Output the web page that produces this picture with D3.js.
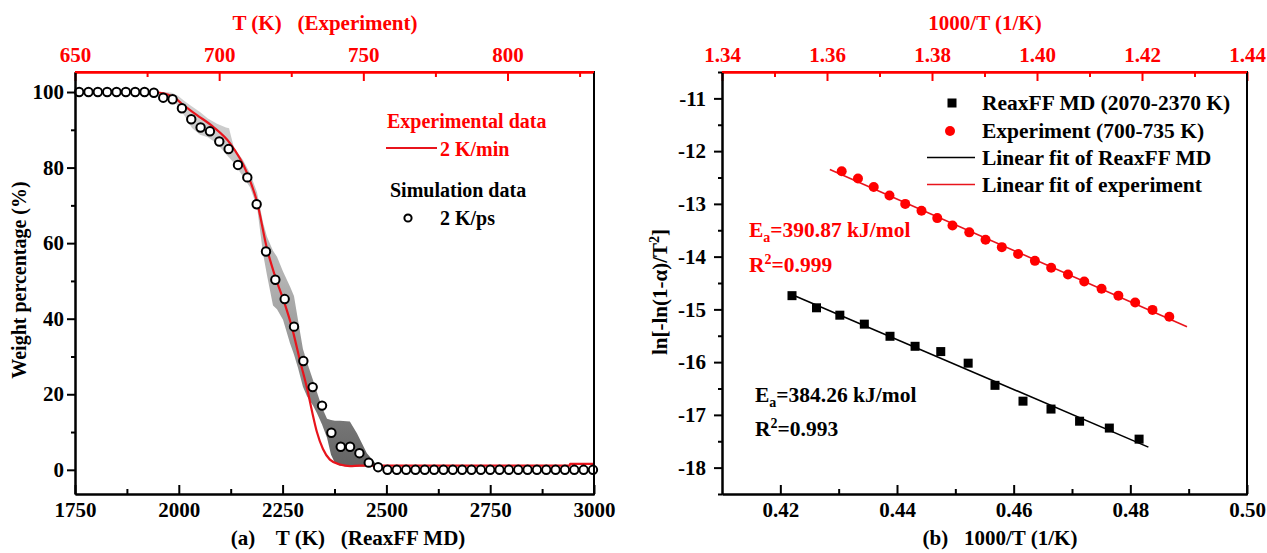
<!DOCTYPE html>
<html><head><meta charset="utf-8">
<script src="https://cdn.jsdelivr.net/npm/d3@7"></script>
<style>
html,body{margin:0;padding:0;background:#fff;}
svg text{font-family:"Liberation Serif","Times New Roman",serif;font-weight:bold;}
</style></head>
<body>
<svg id="chart" width="1267" height="553"></svg>
<script>
// ---------- DATA ----------
// Panel (a): simulation (ReaxFF MD, 2 K/ps), bottom axis T (K)
const simT = [1760,1782.5,1805,1827.5,1850,1872.5,1895,1917.5,1940,1962.5,1985,2007.5,2030,2052.5,2075,2097.5,2120,2142.5,2165,2187.5,2210,2232.5,2255,2277.5,2300,2322.5,2345,2367.5,2390,2412.5,2435,2457.5,2480,2502.5,2525,2547.5,2570,2592.5,2615,2637.5,2660,2682.5,2705,2727.5,2750,2772.5,2795,2817.5,2840,2862.5,2885,2907.5,2930,2952.5,2975,2997.5];
const simW = [100,100,100,100,100,100,100,100,99.8,98.5,98.1,95.7,92.8,90.6,89.6,86.9,84.9,80.7,77.4,70.3,57.8,50.3,45.2,37.9,28.8,21.9,17.0,9.8,6.1,6.1,4.4,1.9,0.7,0,0,0,0,0,0,0,0,0,0,0,0,0,0,0,0,0,0,0,0,0,0,0];
// Simulation spread band (bottom axis T)
const bandT  = [1950,1966.8,1983.6,1998,2015,2031.8,2051,2070,2092,2113.7,2121,2133,2154.6,2171.5,2188.3,2195.6,2202.8,2212.4,2226.9,2236.5,2251,2267.8,2277.4,2287,2299,2308.8,2323.2,2332.8,2345,2357,2366.6,2376,2388,2412,2429,2453,2477,2492];
const bandLo = [100,99.3,98,96.3,93.5,90.5,88.7,88.0,86.4,83.5,82.7,81.2,77.6,74.8,69.7,63.5,57.3,51.5,43.5,42.5,39.7,33.5,30.5,27.0,22.0,19.5,17.0,15.0,12.0,8.5,4.0,1.8,1.1,0.9,0.9,0.9,0.8,0.6];
const bandHi = [100,100,99.8,99,97.5,96.2,94.7,93.0,91.6,90.6,90.4,85.2,82.0,78.5,73.5,69.5,65.5,61.7,58.0,56.4,52.5,48.5,46.0,39.7,32.0,28.5,23.8,20.5,16.5,13.5,13.2,13.0,13.0,12.8,9.7,4.4,1.3,0.8];
// Experimental TGA curve (2 K/min), top axis T (K)
const expT = [676,679.5,684.7,687.5,692.3,697.9,703.8,709.7,713.1,716.6,719.7,722.5,725.3,728.0,730.5,732.2,733.9,736.0,738.4,741.9,745.4,748.8,821.6,821.7,830];
const expW = [100,99.8,98.4,96.6,93.9,90.8,86.4,78.5,71.0,58.5,50.5,44.5,37.5,29,21.5,15.5,10.0,5.5,2.7,1.4,1.0,1.1,1.1,1.6,1.6];

// Panel (b): kinetics
const reaxX = [0.4220,0.4262,0.4302,0.4344,0.4388,0.4431,0.4475,0.4522,0.4568,0.4616,0.4664,0.4713,0.4764,0.4815];
const reaxY = [-14.74,-14.97,-15.11,-15.28,-15.51,-15.70,-15.80,-16.02,-16.44,-16.74,-16.89,-17.12,-17.25,-17.46];
const expX  = [1.3628,1.3659,1.3689,1.3719,1.3749,1.3780,1.3810,1.3839,1.3871,1.3902,1.3933,1.3964,1.3996,1.4027,1.4059,1.4090,1.4123,1.4155,1.4187,1.4220,1.4252];
const expY  = [-12.38,-12.52,-12.68,-12.84,-13.00,-13.13,-13.27,-13.41,-13.54,-13.68,-13.82,-13.95,-14.08,-14.21,-14.34,-14.47,-14.61,-14.74,-14.87,-15.01,-15.14];
const reaxRangeK = [2370, 2070];
const expRangeK  = [735, 700];

// Tick values
const aBottomMajor = [1750,2000,2250,2500,2750,3000];
const aBottomMinor = [1875,2125,2375,2625,2875];
const aTopMajor = [650,700,750,800];
const aTopMinor = [675,725,775,825];
const aYMajor = [0,20,40,60,80,100];
const aYMinor = [10,30,50,70,90];
const bBottomMajor = [0.42,0.44,0.46,0.48,0.50];
const bBottomMinor = [0.43,0.45,0.47,0.49];
const bTopMajor = [1.34,1.36,1.38,1.40,1.42,1.44];
const bTopMinor = [1.35,1.37,1.39,1.41,1.43];
const bYMajor = [-18,-17,-16,-15,-14,-13,-12,-11];
const bYMinor = [-18.5,-17.5,-16.5,-15.5,-14.5,-13.5,-12.5,-11.5,-10.5];

// ---------- DRAW ----------
const svg = d3.select("#chart");
const RED = "#ff0000";
const FS = 21;

function styleAxis(g, color){
  g.selectAll("path.domain").attr("stroke", color).attr("stroke-width", 2);
  g.selectAll(".tick line").attr("stroke", color).attr("stroke-width", 2);
  g.selectAll(".tick text").attr("fill", color).style("font-size", FS+"px")
    .style("font-family",'"Liberation Serif","Times New Roman",serif').style("font-weight","bold");
}

// ===== Panel (a) =====
const ax = {l:75, r:594, t:72, b:494};
const xA = d3.scaleLinear().domain([1750,3000]).range([ax.l, ax.r]);
const xAT = d3.scaleLinear().domain([650,830]).range([ax.l, ax.r]);
const yA = d3.scaleLinear().domain([-6.4,105.3]).range([ax.b, ax.t]);

const defs = svg.append("defs");
const grad = defs.append("linearGradient").attr("id","bandGrad")
  .attr("gradientUnits","userSpaceOnUse").attr("x1",0).attr("x2",0)
  .attr("y1", yA(100)).attr("y2", yA(0));
[[0,"#d2d2d2"],[0.5,"#b2b2b2"],[0.75,"#8a8a8a"],[1,"#626262"]].forEach(s=>{
  grad.append("stop").attr("offset", s[0]).attr("stop-color", s[1]);
});

const band = bandT.map((t,i)=>({t, lo:bandLo[i], hi:bandHi[i]}));
svg.append("path").datum(band)
  .attr("fill","url(#bandGrad)")
  .attr("d", d3.area().x(d=>xA(d.t)).y0(d=>yA(d.lo)).y1(d=>yA(d.hi)).curve(d3.curveLinear));

const expCurve = expT.map((t,i)=>({t, w:expW[i]}));
svg.append("path").datum(expCurve)
  .attr("fill","none").attr("stroke","#e8141c").attr("stroke-width",2.2)
  .attr("d", d3.line().x(d=>xAT(d.t)).y(d=>yA(d.w)).curve(d3.curveMonotoneX));

svg.append("g").selectAll("circle").data(simT.map((t,i)=>({t,w:simW[i]}))).join("circle")
  .attr("cx", d=>xA(d.t)).attr("cy", d=>yA(d.w)).attr("r",4.2)
  .attr("fill","#fff").attr("stroke","#000").attr("stroke-width",2);

// axes (a)
let g;
g = svg.append("g").attr("transform",`translate(0,${ax.b})`)
  .call(d3.axisBottom(xA).tickValues(aBottomMajor).tickSize(-9).tickSizeOuter(0).tickPadding(8).tickFormat(d3.format("d")));
styleAxis(g,"#000");
g = svg.append("g").attr("transform",`translate(0,${ax.b})`)
  .call(d3.axisBottom(xA).tickValues(aBottomMinor).tickSize(-5).tickSizeOuter(0).tickFormat(""));
styleAxis(g,"#000");
g = svg.append("g").attr("transform",`translate(0,${ax.t})`)
  .call(d3.axisTop(xAT).tickValues(aTopMajor).tickSize(-9).tickSizeOuter(0).tickPadding(10).tickFormat(d3.format("d")));
styleAxis(g,RED);
g = svg.append("g").attr("transform",`translate(0,${ax.t})`)
  .call(d3.axisTop(xAT).tickValues(aTopMinor).tickSize(-5).tickSizeOuter(0).tickFormat(""));
styleAxis(g,RED);
g = svg.append("g").attr("transform",`translate(${ax.l},0)`)
  .call(d3.axisLeft(yA).tickValues(aYMajor).tickSize(8).tickSizeOuter(0).tickPadding(3).tickFormat(d3.format("d")));
styleAxis(g,"#000");
g = svg.append("g").attr("transform",`translate(${ax.l},0)`)
  .call(d3.axisLeft(yA).tickValues(aYMinor).tickSize(4).tickSizeOuter(0).tickFormat(""));
styleAxis(g,"#000");
svg.append("line").attr("x1",ax.r).attr("x2",ax.r).attr("y1",ax.t-1).attr("y2",ax.b+1)
  .attr("stroke","#000").attr("stroke-width",2);
svg.append("line").attr("x1",ax.l).attr("x2",ax.r).attr("y1",ax.t).attr("y2",ax.t)
  .attr("stroke",RED).attr("stroke-width",2);

// titles (a)
svg.append("text").attr("x",325).attr("y",30).attr("text-anchor","middle")
  .attr("fill",RED).style("font-size","21px").style("white-space","pre").text("T (K)   (Experiment)");
svg.append("text").attr("x",348).attr("y",545).attr("text-anchor","middle")
  .attr("fill","#000").style("font-size","21px").style("white-space","pre").text("(a)    T (K)   (ReaxFF MD)");
svg.append("text").attr("transform",`translate(26,${(ax.t+ax.b)/2 - 3}) rotate(-90)`).attr("text-anchor","middle")
  .attr("fill","#000").style("font-size","20px").text("Weight percentage (%)");

// legend (a)
svg.append("text").attr("x",387).attr("y",128).attr("fill",RED).style("font-size","20px").text("Experimental data");
svg.append("line").attr("x1",386).attr("x2",437).attr("y1",148).attr("y2",148).attr("stroke","#e8141c").attr("stroke-width",2.2);
svg.append("text").attr("x",440).attr("y",156).attr("fill",RED).style("font-size","20px").text("2 K/min");
svg.append("text").attr("x",390).attr("y",197).attr("fill","#000").style("font-size","20px").text("Simulation data");
svg.append("circle").attr("cx",408).attr("cy",218).attr("r",3.6).attr("fill","#fff").attr("stroke","#000").attr("stroke-width",2);
svg.append("text").attr("x",440).attr("y",225).attr("fill","#000").style("font-size","20px").text("2 K/ps");

// ===== Panel (b) =====
const bx = {l:722, r:1247, t:72, b:494};
const xB = d3.scaleLinear().domain([0.41,0.50]).range([bx.l,bx.r]);
const xBT = d3.scaleLinear().domain([1.34,1.44]).range([bx.l,bx.r]);
const yB = d3.scaleLinear().domain([-18.5,-10.5]).range([bx.b,bx.t]);

function linfit(xs, ys){
  const mx = d3.mean(xs), my = d3.mean(ys);
  let sxy=0,sxx=0;
  xs.forEach((x,i)=>{sxy+=(x-mx)*(ys[i]-my); sxx+=(x-mx)*(x-mx);});
  const b = sxy/sxx; return {a: my-b*mx, b};
}
const fR = linfit(reaxX, reaxY);
const fE = linfit(expX, expY);
const reaxLineX = reaxRangeK.map(k=>1000/k);
const expLineX = expRangeK.map(k=>1000/k);

svg.append("line")
  .attr("x1", xB(reaxLineX[0])).attr("y1", yB(fR.a+fR.b*reaxLineX[0]))
  .attr("x2", xB(reaxLineX[1])).attr("y2", yB(fR.a+fR.b*reaxLineX[1]))
  .attr("stroke","#000").attr("stroke-width",1.6);
svg.append("line")
  .attr("x1", xBT(expLineX[0])).attr("y1", yB(fE.a+fE.b*expLineX[0]))
  .attr("x2", xBT(expLineX[1])).attr("y2", yB(fE.a+fE.b*expLineX[1]))
  .attr("stroke","#e8141c").attr("stroke-width",1.6);

svg.append("g").selectAll("rect").data(reaxX.map((x,i)=>({x,y:reaxY[i]}))).join("rect")
  .attr("x", d=>xB(d.x)-4.5).attr("y", d=>yB(d.y)-4.5).attr("width",9).attr("height",9).attr("fill","#000");
svg.append("g").selectAll("circle").data(expX.map((x,i)=>({x,y:expY[i]}))).join("circle")
  .attr("cx", d=>xBT(d.x)).attr("cy", d=>yB(d.y)).attr("r",5).attr("fill",RED);

g = svg.append("g").attr("transform",`translate(0,${bx.b})`)
  .call(d3.axisBottom(xB).tickValues(bBottomMajor).tickSize(-9).tickSizeOuter(0).tickPadding(8).tickFormat(d3.format(".2f")));
styleAxis(g,"#000");
g = svg.append("g").attr("transform",`translate(0,${bx.b})`)
  .call(d3.axisBottom(xB).tickValues(bBottomMinor).tickSize(-5).tickSizeOuter(0).tickFormat(""));
styleAxis(g,"#000");
g = svg.append("g").attr("transform",`translate(0,${bx.t})`)
  .call(d3.axisTop(xBT).tickValues(bTopMajor).tickSize(-9).tickSizeOuter(0).tickPadding(10).tickFormat(d3.format(".2f")));
styleAxis(g,RED);
g = svg.append("g").attr("transform",`translate(0,${bx.t})`)
  .call(d3.axisTop(xBT).tickValues(bTopMinor).tickSize(-5).tickSizeOuter(0).tickFormat(""));
styleAxis(g,RED);
g = svg.append("g").attr("transform",`translate(${bx.l},0)`)
  .call(d3.axisLeft(yB).tickValues(bYMajor).tickSize(8).tickSizeOuter(0).tickPadding(8).tickFormat(d=>String(d)));
styleAxis(g,"#000");
g = svg.append("g").attr("transform",`translate(${bx.l},0)`)
  .call(d3.axisLeft(yB).tickValues(bYMinor).tickSize(4).tickSizeOuter(0).tickFormat(""));
styleAxis(g,"#000");
svg.append("line").attr("x1",bx.r).attr("x2",bx.r).attr("y1",bx.t-1).attr("y2",bx.b+1)
  .attr("stroke","#000").attr("stroke-width",2);
svg.append("line").attr("x1",bx.l).attr("x2",bx.r).attr("y1",bx.t).attr("y2",bx.t)
  .attr("stroke",RED).attr("stroke-width",2);

// titles (b)
svg.append("text").attr("x",985).attr("y",30).attr("text-anchor","middle")
  .attr("fill",RED).style("font-size","21px").text("1000/T (1/K)");
svg.append("text").attr("x",1000).attr("y",545).attr("text-anchor","middle")
  .attr("fill","#000").style("font-size","21px").style("white-space","pre").text("(b)   1000/T (1/K)");
const yt = svg.append("text").attr("transform",`translate(667,${292}) rotate(-90)`).attr("text-anchor","middle")
  .attr("fill","#000").style("font-size","21px");
yt.append("tspan").text("ln[-ln(1-α)/T");
yt.append("tspan").attr("dy",-8).style("font-size","14px").text("2");
yt.append("tspan").attr("dy",8).text("]");

// legend (b)
const lg = [
  {y:103, t:"ReaxFF MD (2070-2370 K)", sym:"sq"},
  {y:131, t:"Experiment (700-735 K)", sym:"ci"},
  {y:157.5, t:"Linear fit of ReaxFF MD", sym:"lk"},
  {y:184.5, t:"Linear fit of experiment", sym:"lr"}
];
lg.forEach(d=>{
  svg.append("text").attr("x",982).attr("y",d.y+7).attr("fill","#000").style("font-size","21.5px").text(d.t);
  if(d.sym==="sq") svg.append("rect").attr("x",947.5).attr("y",d.y-4.5).attr("width",9).attr("height",9).attr("fill","#000");
  if(d.sym==="ci") svg.append("circle").attr("cx",950).attr("cy",d.y).attr("r",5).attr("fill",RED);
  if(d.sym==="lk") svg.append("line").attr("x1",927).attr("x2",975).attr("y1",d.y).attr("y2",d.y).attr("stroke","#000").attr("stroke-width",1.6);
  if(d.sym==="lr") svg.append("line").attr("x1",927).attr("x2",975).attr("y1",d.y).attr("y2",d.y).attr("stroke","#e8141c").attr("stroke-width",1.6);
});

// annotations (b)
function ea(x, y, color, val){
  const t = svg.append("text").attr("x",x).attr("y",y).attr("fill",color).style("font-size","21.5px");
  t.append("tspan").text("E");
  t.append("tspan").attr("dy",5).style("font-size","14px").text("a");
  t.append("tspan").attr("dy",-5).text("="+val+" kJ/mol");
}
function r2(x, y, color, val){
  const t = svg.append("text").attr("x",x).attr("y",y).attr("fill",color).style("font-size","21.5px");
  t.append("tspan").text("R");
  t.append("tspan").attr("dy",-8).style("font-size","14px").text("2");
  t.append("tspan").attr("dy",8).text("="+val);
}
ea(749, 237, RED, "390.87");
r2(749, 272, RED, "0.999");
ea(755, 402, "#000", "384.26");
r2(755, 436, "#000", "0.993");
</script>
</body></html>
